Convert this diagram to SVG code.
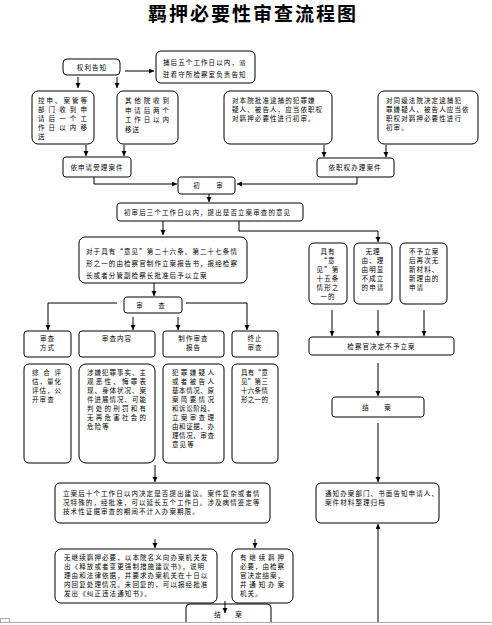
<svg xmlns="http://www.w3.org/2000/svg" width="492" height="625" viewBox="0 0 492 625">
<style>
.b{fill:#fff;stroke:#000;stroke-width:1}
.t{font-family:"Noto Sans CJK SC","Liberation Sans",sans-serif;font-size:6.5px;letter-spacing:1.1px;fill:#000}
.c{text-anchor:middle}
.ln{fill:none;stroke:#000;stroke-width:1;marker-end:url(#ah)}
.title{font-family:"Noto Sans CJK SC","Liberation Sans",sans-serif;font-size:19px;font-weight:bold;letter-spacing:2px;text-anchor:middle;fill:#000}
</style>
<defs>
<marker id="ah" markerUnits="userSpaceOnUse" markerWidth="6" markerHeight="6" refX="5" refY="2.5" orient="auto">
<path d="M0,0 L5,2.5 L0,5 z" fill="#000"/>
</marker>
</defs>
<rect width="492" height="625" fill="#fff"/>
<text class="title" x="253" y="21">羁押必要性审查流程图</text>

<g id="connectors">
<path class="ln" d="M125,71 H154"/>
<path class="ln" d="M78,77 V88"/>
<path class="ln" d="M117,77 V88"/>
<path class="ln" d="M86,145 V156"/>
<path class="ln" d="M124,145 V156"/>
<path class="ln" d="M94,177 V184 H177"/>
<path class="ln" d="M324,145 V157"/>
<path class="ln" d="M386,145 V157"/>
<path class="ln" d="M357,177 V184 H237"/>
<path class="ln" d="M209,194 V202"/>
<path class="ln" d="M163,221 V235"/>
<path class="ln" d="M239,221 V231 H378 V242"/>
<path class="ln" d="M154,283 V296"/>
<path class="ln" d="M117,303 H48 V330"/>
<path class="ln" d="M186,303 H247 V330"/>
<path class="ln" d="M133,317 V330"/>
<path class="ln" d="M178,317 V330"/>
<path class="ln" d="M332,310 V336"/>
<path class="ln" d="M378,310 V336"/>
<path class="ln" d="M424,310 V336"/>
<path class="ln" d="M378,363 V396"/>
<path class="ln" d="M378,423 V482"/>
<path class="ln" d="M378,622 V524"/>
<path class="ln" d="M155,465 V482"/>
<path class="ln" d="M155,539 V548"/>
<path class="ln" d="M255,539 V548"/>
</g>

<g id="n1"><rect class="b" x="63" y="59" width="57" height="16" rx="4"/><text class="t c" x="92" y="69.5">权利告知</text></g>
<g id="n2"><rect class="b" x="156" y="51" width="99" height="32" rx="5"/>
<text class="t" x="163" y="64.5">捕后五个工作日以内，派</text>
<text class="t" x="163" y="77">驻看守所检察室负责告知</text></g>
<g id="n3"><rect class="b" x="32" y="91" width="62" height="53" rx="6"/>
<text class="t" x="38" y="103" textLength="50" lengthAdjust="spacing">控申、案管等</text>
<text class="t" x="38" y="112" textLength="50" lengthAdjust="spacing">部门收到申</text>
<text class="t" x="38" y="121" textLength="50" lengthAdjust="spacing">请后一个工</text>
<text class="t" x="38" y="130" textLength="50" lengthAdjust="spacing">作日以内移</text>
<text class="t" x="38" y="139">送</text></g>
<g id="n4"><rect class="b" x="117" y="91" width="61" height="53" rx="6"/>
<text class="t" x="125" y="103" textLength="45" lengthAdjust="spacing">其他院收到</text>
<text class="t" x="125" y="112.5" textLength="45" lengthAdjust="spacing">申请后两个</text>
<text class="t" x="125" y="122" textLength="45" lengthAdjust="spacing">工作日以内</text>
<text class="t" x="125" y="131.5">移送</text></g>
<g id="n5"><rect class="b" x="224" y="91" width="108" height="53" rx="6"/>
<text class="t" x="232" y="103">对本院批准逮捕的犯罪嫌</text>
<text class="t" x="232" y="112">疑人、被告人，应当依职权</text>
<text class="t" x="232" y="121">对羁押必要性进行初审。</text></g>
<g id="n6"><rect class="b" x="378" y="91" width="100" height="53" rx="6"/>
<text class="t" x="386" y="102.5">对同级法院决定逮捕犯</text>
<text class="t" x="386" y="111.5">罪嫌疑人、被告人应当依</text>
<text class="t" x="386" y="120.5">职权对羁押必要性进行</text>
<text class="t" x="386" y="129.5">初审。</text></g>
<g id="n7"><rect class="b" x="63" y="157" width="68" height="20" rx="3"/><text class="t c" x="97" y="169.5">依申请受理案件</text></g>
<g id="n8"><rect class="b" x="317" y="158" width="77" height="19" rx="3"/><text class="t c" x="355" y="170">依职权办理案件</text></g>
<g id="n9"><rect class="b" x="178" y="177" width="57" height="17" rx="3"/>
<text class="t c" x="197" y="188">初</text><text class="t c" x="220" y="188">审</text></g>
<g id="n10"><rect class="b" x="117" y="203" width="186" height="18" rx="3"/><text class="t" x="124" y="214.5">初审后三个工作日以内，提出是否立案审查的意见</text></g>
<g id="n11"><rect class="b" x="79" y="237" width="168" height="46" rx="6"/>
<text class="t" x="86" y="253.5">对于具有“意见”第二十六条、第二十七条情</text>
<text class="t" x="86" y="265.5">形之一的由检察官制作立案报告书，报经检察</text>
<text class="t" x="86" y="277.5">长或者分管副检察长批准后予以立案</text></g>
<g id="n12"><rect class="b" x="124" y="297" width="58" height="16" rx="3"/>
<text class="t c" x="140" y="307.5">审</text><text class="t c" x="162" y="307.5">查</text></g>
<g id="n13"><rect class="b" x="24" y="331" width="47" height="26" rx="3"/>
<text class="t c" x="47.5" y="340.5">审查</text><text class="t c" x="47.5" y="350">方式</text></g>
<g id="n14"><rect class="b" x="79" y="331" width="76" height="26" rx="3"/>
<text class="t c" x="117" y="340.5">审查内容</text></g>
<g id="n15"><rect class="b" x="163" y="331" width="61" height="26" rx="3"/>
<text class="t c" x="193.5" y="340.5">制作审查</text><text class="t c" x="193.5" y="350">报告</text></g>
<g id="n16"><rect class="b" x="232" y="331" width="46" height="26" rx="3"/>
<text class="t c" x="255" y="340.5">终止</text><text class="t c" x="255" y="350">审查</text></g>
<g id="n17"><rect class="b" x="24" y="364" width="47" height="99" rx="5"/>
<text class="t" x="32" y="374.5" textLength="30" lengthAdjust="spacing">综合评</text>
<text class="t" x="32" y="383.5" textLength="30" lengthAdjust="spacing">估，量化</text>
<text class="t" x="32" y="392.5" textLength="30" lengthAdjust="spacing">评估，公</text>
<text class="t" x="32" y="401.5">开审查</text></g>
<g id="n18"><rect class="b" x="79" y="364" width="76" height="99" rx="7"/>
<text class="t" x="87" y="374.5" textLength="60" lengthAdjust="spacing">涉嫌犯罪事实、主</text>
<text class="t" x="87" y="383.5" textLength="60" lengthAdjust="spacing">观恶性、悔罪表</text>
<text class="t" x="87" y="392.5" textLength="60" lengthAdjust="spacing">现、身体状况、案</text>
<text class="t" x="87" y="401.5" textLength="60" lengthAdjust="spacing">件进展情况、可能</text>
<text class="t" x="87" y="410.5" textLength="60" lengthAdjust="spacing">判处的刑罚和有</text>
<text class="t" x="87" y="419.5" textLength="60" lengthAdjust="spacing">无再危害社会的</text>
<text class="t" x="87" y="428.5">危险等</text></g>
<g id="n19"><rect class="b" x="163" y="364" width="61" height="99" rx="5"/>
<text class="t" x="172" y="374.5" textLength="43" lengthAdjust="spacing">犯罪嫌疑人</text>
<text class="t" x="172" y="383.5" textLength="43" lengthAdjust="spacing">或者被告人</text>
<text class="t" x="172" y="392.5" textLength="43" lengthAdjust="spacing">基本情况、原</text>
<text class="t" x="172" y="401.5" textLength="43" lengthAdjust="spacing">案简要情况</text>
<text class="t" x="172" y="410.5" textLength="43" lengthAdjust="spacing">和诉讼阶段、</text>
<text class="t" x="172" y="419.5" textLength="43" lengthAdjust="spacing">立案审查理</text>
<text class="t" x="172" y="428.5" textLength="43" lengthAdjust="spacing">由和证据、办</text>
<text class="t" x="172" y="437.5" textLength="43" lengthAdjust="spacing">理情况、审查</text>
<text class="t" x="172" y="446.5">意见等</text></g>
<g id="n20"><rect class="b" x="232" y="364" width="46" height="99" rx="5"/>
<text class="t" x="241" y="374.5" textLength="28" lengthAdjust="spacing">具有“意</text>
<text class="t" x="241" y="383.5" textLength="28" lengthAdjust="spacing">见”第三</text>
<text class="t" x="241" y="392.5" textLength="28" lengthAdjust="spacing">十六条情</text>
<text class="t" x="241" y="401.5" textLength="28" lengthAdjust="spacing">形之一的</text></g>
<g id="n21"><rect class="b" x="309" y="243" width="38" height="61" rx="5"/>
<text class="t c" x="328" y="254">具有</text>
<text class="t c" x="328" y="263">“意</text>
<text class="t c" x="328" y="272">见”第</text>
<text class="t c" x="328" y="281">十五条</text>
<text class="t c" x="328" y="290">情形之</text>
<text class="t c" x="328" y="299">一的</text></g>
<g id="n22"><rect class="b" x="354" y="243" width="38" height="61" rx="5"/>
<text class="t c" x="373" y="254">无理</text>
<text class="t c" x="373" y="263">由、理</text>
<text class="t c" x="373" y="272">由明显</text>
<text class="t c" x="373" y="281">不成立</text>
<text class="t c" x="373" y="290">的申请</text></g>
<g id="n23"><rect class="b" x="400" y="243" width="47" height="61" rx="5"/>
<text class="t" x="409" y="254">不予立案</text>
<text class="t" x="409" y="263">后再次无</text>
<text class="t" x="409" y="272">新材料、</text>
<text class="t" x="409" y="281">新理由的</text>
<text class="t" x="409" y="290">申请</text></g>
<g id="n24"><rect class="b" x="309" y="337" width="145" height="18" rx="3"/><text class="t c" x="381.5" y="348.5">检察官决定不予立案</text></g>
<g id="n25"><rect class="b" x="332" y="397" width="92" height="20" rx="3"/>
<text class="t c" x="366" y="409.5">结</text><text class="t c" x="388" y="409.5">案</text></g>
<g id="n26"><rect class="b" x="316" y="483" width="123" height="40" rx="5"/>
<text class="t" x="325" y="495.5">通知办案部门、书面告知申请人、</text>
<text class="t" x="325" y="504.5">案件材料整理归档</text></g>
<g id="n27"><rect class="b" x="55" y="483" width="215" height="40" rx="5"/>
<text class="t" x="63" y="496">立案后十个工作日以内决定是否提出建议。案件复杂或者情</text>
<text class="t" x="63" y="505">况特殊的，经批准，可以延长五个工作日。涉及病情鉴定等</text>
<text class="t" x="63" y="514">技术性证据审查的期间不计入办案期限。</text></g>
<g id="n28"><rect class="b" x="55" y="549" width="162" height="54" rx="6"/>
<text class="t" x="64" y="560">无继续羁押必要，以本院名义向办案机关发</text>
<text class="t" x="64" y="569">出《释放或者变更强制措施建议书》，说明</text>
<text class="t" x="64" y="578">理由和法律依据，并要求办案机关在十日以</text>
<text class="t" x="64" y="587">内回复处理情况。未回复的，可以报经批准</text>
<text class="t" x="64" y="596">发出《纠正违法通知书》。</text></g>
<g id="n29"><rect class="b" x="232" y="549" width="61" height="54" rx="6"/>
<text class="t" x="240" y="560" textLength="45" lengthAdjust="spacing">有继续羁押</text>
<text class="t" x="240" y="569" textLength="45" lengthAdjust="spacing">必要，由检察</text>
<text class="t" x="240" y="578" textLength="45" lengthAdjust="spacing">官决定结案，</text>
<text class="t" x="240" y="587" textLength="45" lengthAdjust="spacing">并通知办案</text>
<text class="t" x="240" y="596">机关。</text></g>
<g id="n30"><rect class="b" x="186" y="604" width="85" height="30" rx="4"/>
<text class="t c" x="218" y="616.5">结</text><text class="t c" x="239" y="616.5">案</text></g>
<g id="connectors2"><path d="M225,601 V613" class="ln"/></g>
<rect x="0" y="622.5" width="492" height="3" fill="#fff"/>
<line x1="0" y1="622.5" x2="492" y2="622.5" stroke="#aaa" stroke-width="1"/>
<rect x="0.5" y="618.5" width="9" height="4" fill="none" stroke="#aaa" stroke-width="1"/>
</svg>
